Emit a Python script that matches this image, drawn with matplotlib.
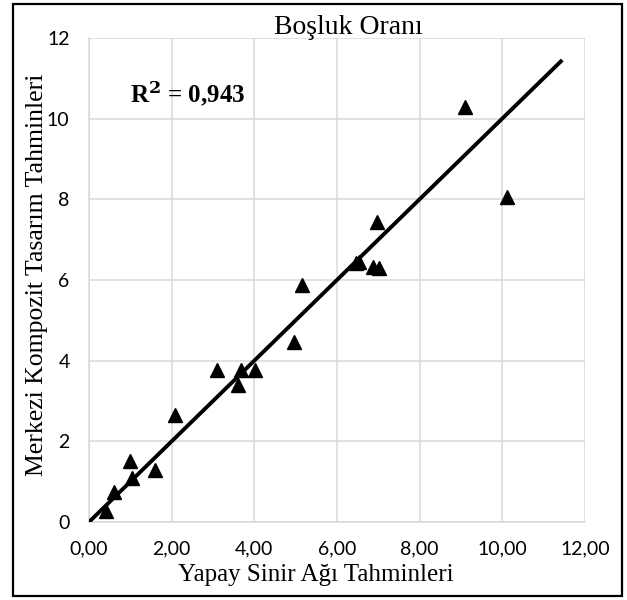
import matplotlib
matplotlib.use('Agg')
import matplotlib.pyplot as plt
from matplotlib.patches import Rectangle

# ─── data ────────────────────────────────────────────────────────────────────
ysa_pred = [0.42, 0.60, 1.00, 1.04, 1.60, 2.08, 3.10, 3.60, 3.68, 4.02,
            4.96, 5.16, 6.45, 6.52, 6.88, 7.02, 6.97, 9.10, 10.12]
mkt_pred = [0.28, 0.75, 1.52, 1.08, 1.29, 2.65, 3.77, 3.40, 3.77, 3.77,
            4.47, 5.88, 6.42, 6.45, 6.33, 6.30, 7.44, 10.28, 8.06]

trend_x = [0.0, 11.45]
trend_y = [0.0, 11.45]
r2_text = 'R$^\\mathbf{2}$ = 0,943'

x_ticks = [0, 2, 4, 6, 8, 10, 12]
x_labels = ['0,00', '2,00', '4,00', '6,00', '8,00', '10,00', '12,00']
y_ticks = [0, 2, 4, 6, 8, 10, 12]
y_labels = ['0', '2', '4', '6', '8', '10', '12']

title = 'Boşluk Oranı'
x_title = 'Yapay Sinir Ağı Tahminleri'
y_title = 'Merkezi Kompozit Tasarım Tahminleri'

SERIF = ['Liberation Serif', 'DejaVu Serif']
SANS = ['Lato', 'DejaVu Sans']
GRID = '#d9d9d9'

fig = plt.figure(figsize=(6.27, 6.0), dpi=100)
ax = fig.add_axes([0.142, 0.13, 0.791, 0.807])

ax.plot(trend_x, trend_y, color='black', linewidth=2.8, zorder=3,
        solid_capstyle='butt')
ax.plot(ysa_pred, mkt_pred, linestyle='none', marker='^', markersize=10,
        color='black', zorder=4, clip_on=False)

ax.set_xlim(0, 12)
ax.set_ylim(0, 12)
ax.set_xticks(x_ticks)
ax.set_xticklabels(x_labels, family=SANS, fontsize=14)
ax.set_yticks(y_ticks)
ax.set_yticklabels(y_labels, family=SANS, fontsize=14)
ax.tick_params(axis='x', length=0, pad=13)
ax.tick_params(axis='y', length=0, pad=14)

ax.grid(True, color=GRID, linewidth=1.1)
ax.set_axisbelow(True)
for side in ['top', 'right']:
    ax.spines[side].set_visible(False)
for side in ['left', 'bottom']:
    ax.spines[side].set_color(GRID)
    ax.spines[side].set_linewidth(1.1)

ax.set_xlabel(x_title, family=SERIF, fontsize=18, labelpad=5, x=0.458)
ax.set_ylabel(y_title, family=SERIF, fontsize=18.5, labelpad=-1, y=0.51)

ax.text(0.98, 10.6, r2_text, family=SERIF, fontsize=18, fontweight='bold',
        va='center', ha='left', math_fontfamily='dejavuserif')

fig.text(0.555, 0.955, title, family=SERIF, fontsize=20,
         ha='center', va='center')

# chart border
fig.patches.append(Rectangle((13 / 627, 4 / 600), 609 / 627, 592 / 600,
                             transform=fig.transFigure, fill=False,
                             edgecolor='black', linewidth=1.6))

fig.savefig('out.png', dpi=100)
plt.close(fig)
